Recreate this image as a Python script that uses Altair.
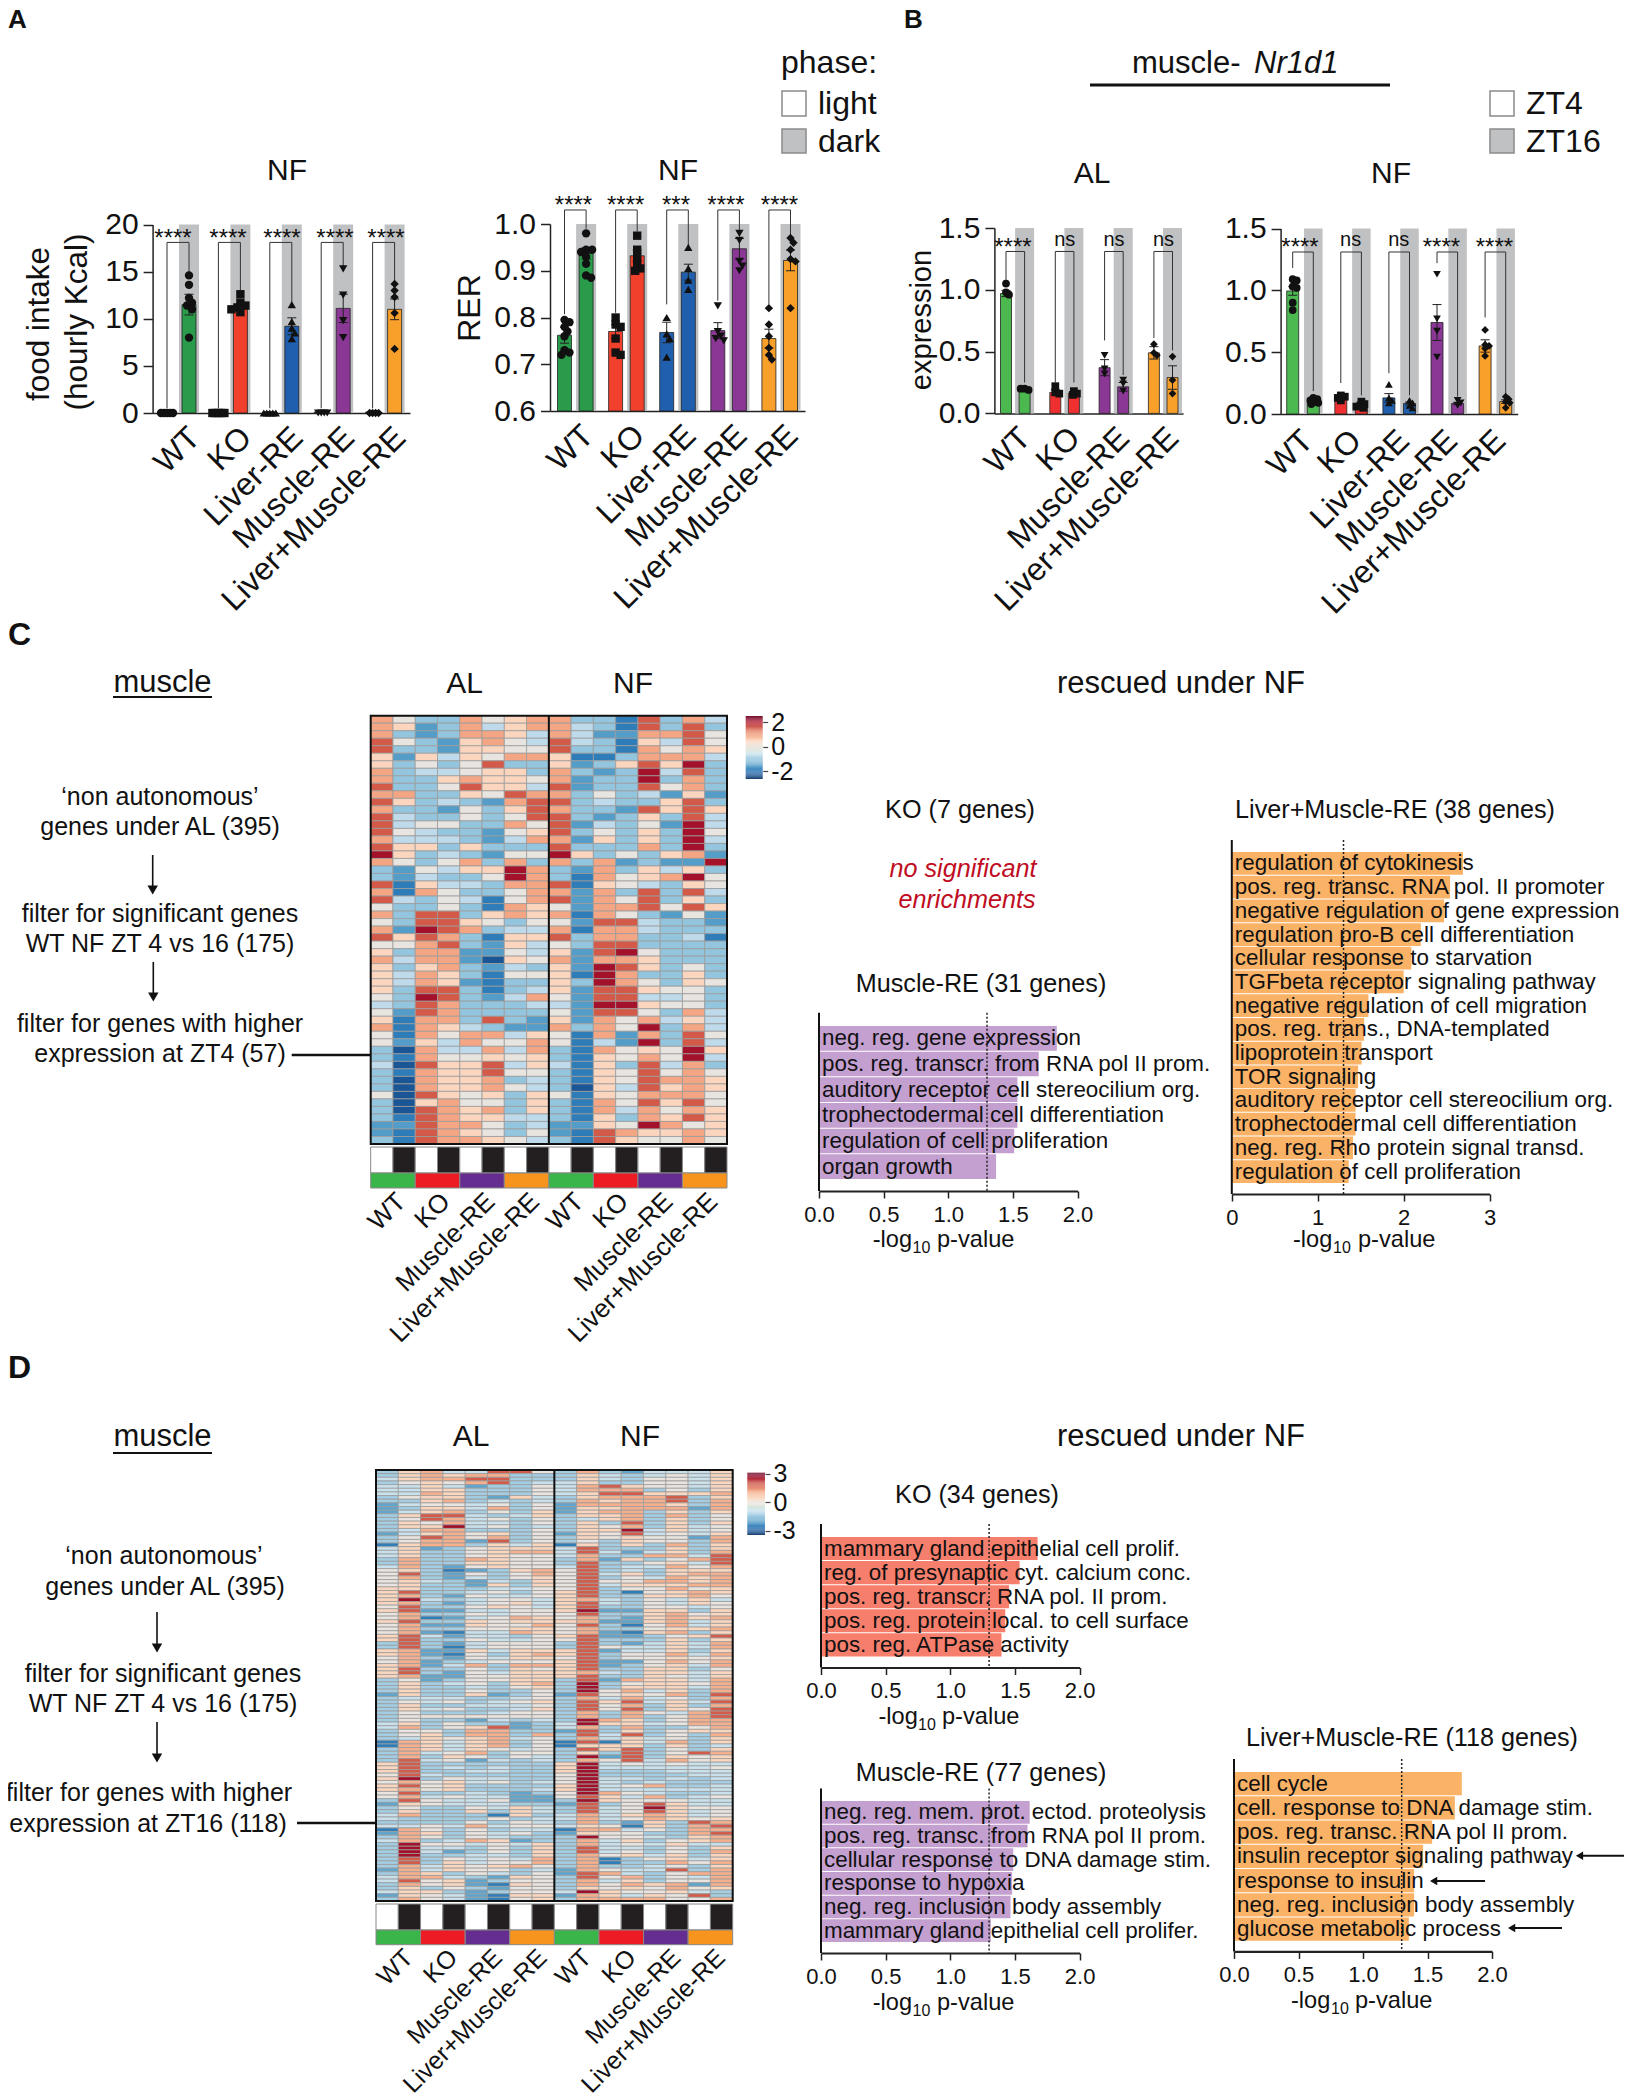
import altair as alt
import numpy as np
import pandas as pd

W, H = 1616, 2092
FONT = "Liberation Sans"

# ---------- panel data ----------
GROUPS5 = ["WT", "KO", "Liver-RE", "Muscle-RE", "Liver+Muscle-RE"]
GROUPS4 = ["WT", "KO", "Muscle-RE", "Liver+Muscle-RE"]
SHAPES = {"WT": "circle", "KO": "square", "Liver-RE": "triangle-up",
          "Muscle-RE": "triangle-down", "Liver+Muscle-RE": "diamond"}
COL_A = {"WT": "#2A9B4A", "KO": "#F1412D", "Liver-RE": "#1F5FAE",
         "Muscle-RE": "#8A3795", "Liver+Muscle-RE": "#F9A02B"}
COL_B = {"WT": "#4CB850", "KO": "#F03030", "Liver-RE": "#2060AE",
         "Muscle-RE": "#8A3795", "Liver+Muscle-RE": "#F9A02B"}

FOOD_L = [[0.0] * 5, [0.0] * 5, [0.0] * 5, [0.0] * 4, [0.0] * 4]
FOOD_D = [[14.6, 13.6, 12.2, 11.7, 11.4, 11.0, 8.0],
          [12.6, 11.7, 11.4, 11.2, 11.0, 10.7],
          [11.5, 9.7, 9.0, 8.5, 7.9],
          [15.3, 12.5, 9.8, 8.0],
          [13.7, 13.0, 12.3, 10.6, 6.8]]
FOOD_M_L = [0.1, 0.1, 0.1, 0.1, 0.1]
FOOD_M_D = [11.5, 11.3, 9.2, 11.1, 11.0]
FOOD_E_L = [0, 0, 0, 0, 0]
FOOD_E_D = [1.1, 0.3, 0.9, 1.5, 1.1]
FOOD_BR = [18.1, [0.5] * 5, [14.9, 13.0, 11.7, 15.6, 14.0]]
FOOD_SIG = ["****", "****", "****", "****", "****"]

RER_L = [[.795, .79, .78, .77, .76, .73, .725, .72],
         [.80, .785, .78, .755, .725, .72],
         [.80, .765, .755, .715],
         [.825, .77, .76, .755, .75],
         [.82, .785, .76, .735, .72, .71]]
RER_D = [[.98, .945, .945, .94, .93, .915, .89, .885],
         [.975, .945, .93, .915, .905, .90],
         [.95, .905, .88, .86],
         [.98, .965, .92, .91, .90],
         [.97, .96, .945, .925, .92, .82]]
RER_M_L = [.762, .77, .768, .772, .755]
RER_M_D = [.937, .932, .897, .947, .922]
RER_E_L = [.017, .015, .022, .017, .02]
RER_E_D = [.012, .012, .017, .022, .022]
RER_BR = [1.03, [.807, .81, .828, .836, .828], [.99, .984, .946, .986, .975]]
RER_SIG = ["****", "****", "***", "****", "****"]

AL_L = [[1.05, .98, .96], [.22, .17, .16], [.47, .36, .32], [.56, .49, .47]]
AL_D = [[.2, .19, .2], [.18, .16, .15], [.27, .24, .18], [.46, .27, .16]]
AL_M_L = [.97, .17, .37, .49]
AL_M_D = [.19, .165, .215, .29]
AL_E_L = [.025, .02, .065, .05]
AL_E_D = [.008, .012, .035, .095]
AL_BR = [1.31, [1.07, .25, .59, .61], [.25, .25, .31, .51]]
AL_SIG = ["****", "ns", "ns", "ns"]

NF_L = [[1.09, 1.08, 1.03, 1.02, .9, .84], [.15, .14, .13, .11],
        [.24, .13, .11, .09], [1.13, .77, .67, .46], [.68, .56, .55, .53, .47]]
NF_D = [[.13, .12, .11, .1, .09, .08], [.1, .08, .07, .06, .05],
        [.11, .09, .07, .05], [.11, .09, .07], [.14, .12, .10, .09, .05]]
NF_M_L = [.995, .12, .13, .74, .55]
NF_M_D = [.10, .07, .085, .085, .10]
NF_E_L = [.035, .01, .035, .145, .05]
NF_E_D = [.008, .008, .012, .01, .015]
NF_BR = [1.31, [1.18, .25, .33, 1.22, .78], [.185, .15, .15, .14, .14]]
NF_SIG = ["****", "ns", "ns", "****", "****"]

# heat map shade levels, one string per gene, 8 columns AL + 8 columns NF
HEAT_C = """
75337567 73318374
76237467 74318383
73237764 74227785
85326754 84316485
83326655 83317576
62646577 61137774
63535833 62368693
73445663 73239483
73367665 72339373
83358664 82338573
77336587 73534262
86343278 83433683
73325368 73328686
84335358 83236384
84553375 82435294
85433256 83536395
74443247 72636394
86636333 83337393
96343255 96353672
75357373 73723229
32546697 32736463
32433597 31756795
81644377 81654365
71753357 72738384
84354157 82758363
53353176 52778586
73883676 71753252
53886535 52884332
72987344 71774333
86873166 83773341
55783264 53883333
63772254 62895333
74772065 72776333
63673243 62986353
64763155 61973363
64762133 63975365
63883134 62886553
53983247 52884453
43873334 42996553
52873333 52885374
61773832 62757464
71764322 73759374
51757746 51727385
52647557 51429384
30744747 31756596
31755656 31657594
40866846 41638473
31766855 31658575
30766734 31658776
30766754 30648676
50865636 51657775
30675536 31758685
30876736 31747576
31876644 31637686
22877534 22659756
21876535 21876676
31877654 31865575
"""
HEAT_D = """
36744885 37324446
36767733 36434546
46778833 36435546
35657834 46335546
44642335 47865546
44663335 47773536
44763335 46886667
35663264 36777836
33673434 37677837
24554535 27777637
23664735 26677727
24673536 26773636
36884346 36673735
35874535 34673635
36574435 36383636
36694534 36573645
34773335 36694645
24675635 26584546
35875735 36565527
35772835 35365537
16773646 16363736
46235666 48333636
46335677 48424637
46335655 47337748
37337655 37263578
37336655 38335648
47325655 48344757
56312367 58343666
58325357 58463677
57324356 58354767
56432436 58557767
56332636 58466677
66333445 58355756
68334535 68315676
67325445 68336675
69434554 67435464
67324564 68435465
58335654 68335545
68224455 69226636
57335455 58336756
57124576 57326767
68336566 67226746
57226557 58315746
57335566 57335667
57214476 57216736
68424435 68223568
68335445 58333636
38324555 38324647
38314555 38544647
67226466 68244636
67215367 68355747
57325466 58355656
57234555 68225757
67247377 68235647
68335365 68336635
68325466 67436646
67225566 68336546
35235566 38276647
36345367 39356657
36334356 39366647
36335335 39574637
26336235 28565738
34443345 37474537
35453456 38684648
36334445 38573637
36453346 38583658
35333455 37375478
35555555 37373578
35332434 39763577
46353323 49664577
47356823 47373357
35537733 28363566
35637737 38483537
34656745 37464536
17646735 18164736
17646735 16663634
37646545 38683536
37457355 36383587
37365354 39283656
38452434 37584756
68333333 69454544
68343433 69444445
68334433 69333444
58433333 59333344
69354433 59443434
57564534 59434333
68563333 69457334
67563334 69444444
58334323 59754334
57454422 58647345
38544522 39655544
26544433 28358644
35335464 38459655
36336364 38458645
47333163 47467645
43333534 47457656
33335354 37326387
44547455 46516378
17535344 17745377
27635453 26553378
37535433 39554367
47347623 37463567
39554546 37454644
39443536 38443536
39423536 38453537
39334436 37564636
38354547 37135646
38364557 37133757
37465675 37334536
27465534 27544837
37635435 28743577
47743265 38573547
48562355 37463557
37562165 37576727
36353255 36565756
46632355 49655643
26542166 27646583
37542156 37777557
"""

# enrichment bars
C_MUSCLE_T = ["neg. reg. gene expression", "pos. reg. transcr. from RNA pol II prom.",
              "auditory receptor cell stereocilium org.", "trophectodermal cell differentiation",
              "regulation of cell proliferation", "organ growth"]
C_MUSCLE_V = [1.84, 1.70, 1.535, 1.535, 1.51, 1.37]
C_LM_T = ["regulation of cytokinesis", "pos. reg. transc. RNA pol. II promoter",
          "negative regulation of gene expression", "regulation pro-B cell differentiation",
          "cellular response to starvation", "TGFbeta receptor signaling pathway",
          "negative regulation of cell migration", "pos. reg. trans., DNA-templated",
          "lipoprotein transport", "TOR signaling", "auditory receptor cell stereocilium org.",
          "trophectodermal cell differentiation", "neg. reg. Rho protein signal transd.",
          "regulation of cell proliferation"]
C_LM_V = [2.69, 2.54, 2.47, 2.20, 2.09, 2.0, 1.59, 1.54, 1.51, 1.47, 1.44, 1.44, 1.41, 1.36]
D_KO_T = ["mammary gland epithelial cell prolif.", "reg. of presynaptic cyt. calcium conc.",
          "pos. reg. transcr. RNA pol. II prom.", "pos. reg. protein local. to cell surface",
          "pos. reg. ATPase activity"]
D_KO_V = [1.675, 1.536, 1.454, 1.425, 1.396]
D_MUSCLE_T = ["neg. reg. mem. prot. ectod. proteolysis", "pos. reg. transc. from RNA pol II prom.",
              "cellular response to DNA damage stim.", "response to hypoxia",
              "neg. reg. inclusion body assembly", "mammary gland epithelial cell prolifer."]
D_MUSCLE_V = [1.614, 1.597, 1.487, 1.478, 1.466, 1.314]
D_LM_T = ["cell cycle", "cell. response to DNA damage stim.", "pos. reg. transc. RNA pol II prom.",
          "insulin receptor signaling pathway", "response to insulin",
          "neg. reg. inclusion body assembly", "glucose metabolic process"]
D_LM_V = [1.766, 1.712, 1.536, 1.466, 1.396, 1.396, 1.355]

RDBU = ["#053061", "#2166AC", "#4393C3", "#92C5DE", "#C9E0EE", "#E8E4E0",
        "#FBD5BE", "#F4A582", "#D6604D", "#B2182B", "#67001F"]
LEVELS_C = [-2.29, -1.88, -1.52, -1.1, -0.7, -0.08, 0.44, 0.95, 1.52, 2.09]
LEVELS_D = [-3.0, -2.45, -1.9, -1.3, -0.8, -0.15, 0.45, 1.0, 1.85, 2.6]


def px(v):
    return v - 8


DUMMY = alt.Data(values=[{"_": 0}])
layers = []


def T(text, x, y, size=25, align="left", angle=0, style=None, color="#111", weight=None):
    kw = dict(text=text, fontSize=size, align=align, baseline="alphabetic", font=FONT, color=color)
    if angle:
        kw["angle"] = angle
    if style:
        kw["fontStyle"] = style
    if weight:
        kw["fontWeight"] = weight
    layers.append(alt.Chart(DUMMY).mark_text(**kw).encode(x=alt.value(px(x)), y=alt.value(px(y))))


def LINE(x1, y1, x2, y2, w=2.0, color="#111"):
    layers.append(alt.Chart(DUMMY).mark_rule(color=color, strokeWidth=w).encode(
        x=alt.value(px(x1)), x2=alt.value(px(x2)), y=alt.value(px(y1)), y2=alt.value(px(y2))))


def HEAD(x, y, shape, size=110):
    layers.append(alt.Chart(DUMMY).mark_point(shape=shape, filled=True, color="#111", size=size, opacity=1).encode(
        x=alt.value(px(x)), y=alt.value(px(y))))


def BOX(x1, y1, x2, y2, fill, stroke="#8a8a8a"):
    layers.append(alt.Chart(DUMMY).mark_rect(fill=fill, stroke=stroke, strokeWidth=1.5).encode(
        x=alt.value(px(x1)), x2=alt.value(px(x2)), y=alt.value(px(y1)), y2=alt.value(px(y2))))


def swarm(vals, ppu, unit, gap):
    sep = 3.0 if max(vals) == min(vals) else gap
    placed, out = [], []
    for v in vals:
        y = v * ppu
        for k in range(0, 24):
            off = ((k + 1) // 2) * (1 if k % 2 else -1) * 1.0
            if all(np.hypot(off - a, y - b) >= sep for a, b in placed):
                break
        placed.append((off, y))
        out.append(off / unit)
    return out


def bar_panel(names, pal, L, D, ML, MD, EL, ED, BR, x_first, pitch, sep, bw, bandw, ax_x, x_end,
              y0, y1, dom, ticks, fmt, lab_off, lab_pad, lab_size=32, cap=4.5, msize=70, gap=5.5):
    u = lambda p: (p - x_first) / pitch
    xs = alt.Scale(domain=[u(ax_x), u(x_end)], range=[px(ax_x), px(x_end)], nice=False, zero=False)
    ys = alt.Scale(domain=dom, range=[px(y0), px(y1)], nice=False, zero=False)
    s = sep / pitch
    ppu = (y0 - y1) / (dom[1] - dom[0])
    bars, pts, errs, caps, bands, br1, br2 = [], [], [], [], [], [], []
    for g, n in enumerate(names):
        pl, pd_ = g, g + s
        bands.append(dict(a=pd_ - bandw / 2 / pitch, b=pd_ + bandw / 2 / pitch, lo=dom[0], hi=dom[1]))
        for pos, m, e, vals in ((pl, ML[g], EL[g], L[g]), (pd_, MD[g], ED[g], D[g])):
            bars.append(dict(a=pos - bw / 2 / pitch, b=pos + bw / 2 / pitch, lo=dom[0], hi=max(m, dom[0]), g=n))
            errs.append(dict(p=pos, lo=m - e, hi=m + e))
            caps.append(dict(a=pos - cap / pitch, b=pos + cap / pitch, y=m - e))
            caps.append(dict(a=pos - cap / pitch, b=pos + cap / pitch, y=m + e))
            for v, o in zip(vals, swarm(vals, ppu, pitch, gap)):
                pts.append(dict(p=pos + o, v=v, g=n))
        br1.append(dict(p=pl, lo=BR[1][g], hi=BR[0]))
        br1.append(dict(p=pd_, lo=BR[2][g], hi=BR[0]))
        br2.append(dict(a=pl, b=pd_, y=BR[0]))
    X0 = alt.X("a:Q", scale=xs, axis=None)
    Y0 = alt.Y("lo:Q", scale=ys, axis=None)
    name_list = "[" + ",".join("'%s'" % n for n in names) + "]"
    vals = [g + 0.2 for g in range(len(names))]
    xaxis = alt.Axis(orient="bottom", values=vals, labelExpr=name_list + "[floor(datum.value)]", ticks=False, grid=False,
                     domainColor="#222", domainWidth=1.5, labelFontSize=lab_size, labelFont=FONT, labelLimit=500,
                     labelColor="#111", labelAngle=315, labelAlign="right", labelBaseline="middle",
                     labelPadding=lab_pad, labelOffset=lab_off, labelOverlap=False, labelFlush=False, labelBound=False,
                     title=None, offset=-(H - px(y0)))
    yaxis = alt.Axis(orient="left", values=ticks, format=fmt, grid=False, domainColor="#222", domainWidth=1.5,
                     tickColor="#222", tickSize=9.5, tickWidth=1.5, labelFontSize=30, labelFont=FONT,
                     labelColor="#111", labelPadding=5, title=None, offset=-px(ax_x), labelFlush=False,
                     labelBound=False, labelOverlap=False)
    color = alt.Color("g:N", scale=alt.Scale(domain=names, range=[pal[n] for n in names]), legend=None)
    shape = alt.Shape("g:N", scale=alt.Scale(domain=names, range=[SHAPES[n] for n in names]), legend=None)
    layers.extend([
        alt.Chart(pd.DataFrame(bands)).mark_rect(color="#C0C1C3").encode(
            x=alt.X("a:Q", scale=xs, axis=xaxis), x2="b:Q",
            y=alt.Y("lo:Q", scale=ys, axis=yaxis), y2="hi:Q"),
        alt.Chart(pd.DataFrame(bars)).mark_rect(stroke="#222", strokeWidth=0.8).encode(
            x=X0, x2="b:Q", y=Y0, y2="hi:Q", color=color),
        alt.Chart(pd.DataFrame(br1)).mark_rule(color="#333", strokeWidth=1).encode(
            x=alt.X("p:Q", scale=xs, axis=None), y=Y0, y2="hi:Q"),
        alt.Chart(pd.DataFrame(br2)).mark_rule(color="#333", strokeWidth=1).encode(
            x=X0, x2="b:Q", y=alt.Y("y:Q", scale=ys, axis=None)),
        alt.Chart(pd.DataFrame(errs)).mark_rule(color="#222", strokeWidth=1).encode(
            x=alt.X("p:Q", scale=xs, axis=None), y=Y0, y2="hi:Q"),
        alt.Chart(pd.DataFrame(caps)).mark_rule(color="#222", strokeWidth=1).encode(
            x=X0, x2="b:Q", y=alt.Y("y:Q", scale=ys, axis=None)),
        alt.Chart(pd.DataFrame(pts)).mark_point(filled=True, color="#111", opacity=1, size=msize).encode(
            x=alt.X("p:Q", scale=xs, axis=None), y=alt.Y("v:Q", scale=ys, axis=None), shape=shape),
    ])


def heat_panel(rows_txt, levels, left, right, top, bottom, dom_lo, dom_hi, s1, s2, s3, lab_y, lab_size, lab_shift,
               bar_x0, bar_x1, bar_y0, bar_y1, bar_ticks):
    rows = [r.replace(" ", "") for r in rows_txt.strip().splitlines()]
    n = len(rows)
    recs = [dict(c=c, c2=c + 1, r=i, r2=i + 1, v=levels[int(ch)])
            for i, r in enumerate(rows) for c, ch in enumerate(r)]
    xs = alt.Scale(domain=[0, 16], range=[px(left), px(right)], nice=False, zero=False)
    ys = alt.Scale(domain=[0, n], range=[px(top), px(bottom)], nice=False, zero=False)
    cs = alt.Scale(domain=list(np.linspace(dom_lo, dom_hi, 11)), range=RDBU)
    names = GROUPS4 + GROUPS4
    name_list = "[" + ",".join("'%s'" % k for k in names) + "]"
    xaxis = alt.Axis(orient="bottom", values=[2 * g + lab_shift for g in range(8)], labelExpr=name_list + "[floor(datum.value/2)]",
                     ticks=False, domain=False, grid=False, labelFontSize=lab_size, labelFont=FONT, labelLimit=500,
                     labelColor="#111", labelAngle=315, labelAlign="right", labelBaseline="middle",
                     labelPadding=7, labelOverlap=False, labelFlush=False, labelBound=False, title=None,
                     offset=-(H - px(lab_y)))
    strip1 = [dict(c=c, c2=c + 1, k="w" if c % 2 == 0 else "b") for c in range(16)]
    strip2 = [dict(c=2 * g, c2=2 * g + 2, k=names[g]) for g in range(8)]
    layers.extend([
        alt.Chart(pd.DataFrame(recs)).mark_rect(stroke="#9c9c9c", strokeWidth=0.8).encode(
            x=alt.X("c:Q", scale=xs, axis=xaxis), x2="c2:Q",
            y=alt.Y("r:Q", scale=ys, axis=None), y2="r2:Q",
            color=alt.Color("v:Q", scale=cs, legend=None)),
        alt.Chart(DUMMY).mark_rect(filled=False, stroke="#111", strokeWidth=2).encode(
            x=alt.X(datum=0, scale=xs, axis=None), x2=alt.X2(datum=16),
            y=alt.Y(datum=0, scale=ys, axis=None), y2=alt.Y2(datum=n)),
        alt.Chart(DUMMY).mark_rule(color="#111", strokeWidth=2).encode(
            x=alt.X(datum=8, scale=xs, axis=None),
            y=alt.Y(datum=0, scale=ys, axis=None), y2=alt.Y2(datum=n)),
        alt.Chart(pd.DataFrame(strip1)).mark_rect(stroke="#888", strokeWidth=1).encode(
            x=alt.X("c:Q", scale=xs, axis=None), x2="c2:Q", y=alt.value(px(s1)), y2=alt.value(px(s2)),
            fill=alt.Fill("k:N", scale=alt.Scale(domain=["w", "b"], range=["#FFFFFF", "#231F20"]), legend=None)),
        alt.Chart(pd.DataFrame(strip2)).mark_rect(stroke="#888", strokeWidth=1).encode(
            x=alt.X("c:Q", scale=xs, axis=None), x2="c2:Q", y=alt.value(px(s2)), y2=alt.value(px(s3)),
            fill=alt.Fill("k:N", scale=alt.Scale(domain=["WT", "KO", "Muscle-RE", "Liver+Muscle-RE"],
                                                 range=["#39B54A", "#ED1C24", "#662D91", "#F7941D"]), legend=None)),
    ])
    # colour bar
    lv = np.linspace(dom_lo, dom_hi, 70)
    bar = pd.DataFrame({"a": lv[:-1], "b": lv[1:], "v": (lv[:-1] + lv[1:]) / 2})
    ybar = alt.Scale(domain=[dom_lo, dom_hi], range=[px(bar_y1), px(bar_y0)], nice=False, zero=False)
    baxis = alt.Axis(orient="right", values=bar_ticks, domain=False, grid=False, tickSize=5, tickColor="#444",
                     tickWidth=1.2, labelFontSize=25, labelFont=FONT, labelColor="#111", labelPadding=3,
                     title=None, offset=-(W - px(bar_x1)), labelOverlap=False, labelFlush=False, labelBound=False,
                     labelExpr="replace(format(datum.value,'d'),'\u2212','-')")
    layers.append(alt.Chart(bar).mark_rect().encode(
        x=alt.value(px(bar_x0)), x2=alt.value(px(bar_x1)),
        y=alt.Y("a:Q", scale=ybar, axis=baxis), y2="b:Q",
        color=alt.Color("v:Q", scale=cs, legend=None)))


def go_panel(rows, vals, color, x0, x1, dmax, ticks, fmt, top, axy, b0, b1, size=22.4):
    xs = alt.Scale(domain=[0, dmax], range=[px(x0), px(x1)], nice=False, zero=False)
    ys = alt.Scale(type="band", domain=rows, range=[px(b0), px(b1)], paddingInner=0.04, paddingOuter=0)
    df = pd.DataFrame({"row": rows, "v": vals})
    xaxis = alt.Axis(orient="bottom", values=ticks, format=fmt, grid=False, domainColor="#222", domainWidth=2.2, tickColor="#222",
                     tickSize=7, tickWidth=1.5, labelFontSize=22, labelFont=FONT, labelColor="#111",
                     labelPadding=6, title=None, offset=-(H - px(axy)), labelFlush=False, labelBound=False,
                     labelOverlap=False)
    Yb = alt.Y("row:N", scale=ys, axis=None, sort=None)
    layers.extend([
        alt.Chart(df).mark_bar(color=color).encode(x=alt.X("v:Q", scale=xs, axis=xaxis), y=Yb),
        alt.Chart(DUMMY).mark_rule(color="#111", strokeWidth=2).encode(
            x=alt.X(datum=0, scale=xs, axis=None), y=alt.value(px(top)), y2=alt.value(px(axy))),
        alt.Chart(DUMMY).mark_rule(color="#222", strokeWidth=1.5, strokeDash=[2, 2]).encode(
            x=alt.X(datum=1.3, scale=xs, axis=None), y=alt.value(px(top)), y2=alt.value(px(axy))),
        alt.Chart(df).mark_text(align="left", fontSize=size, font=FONT, color="#111", dx=3).encode(
            x=alt.X(datum=0, scale=xs, axis=None), y=Yb, text="row:N"),
    ])


def logp(x, x10, xp, y):
    T("-log", x, y, 23.6)
    T("10", x10, y + 6, 16)
    T("p-value", xp, y, 23.6)


# ---------- panel letters ----------
T("A", 8, 28, 26, weight="bold")
T("B", 904, 28, 26, weight="bold")
T("C", 8, 645, 32, weight="bold")
T("D", 8, 1378, 32, weight="bold")

# ---------- panel A ----------
bar_panel(GROUPS5, COL_A, FOOD_L, FOOD_D, FOOD_M_L, FOOD_M_D, FOOD_E_L, FOOD_E_D, FOOD_BR,
          167, 51.4, 22, 14, 20, 152.6, 410, 413, 224.5, [0, 20], [0, 5, 10, 15, 20], "d", 17, 19)
bar_panel(GROUPS5, COL_A, RER_L, RER_D, RER_M_L, RER_M_D, RER_E_L, RER_E_D, RER_BR,
          564.5, 51.1, 21.6, 14, 20, 550, 805, 411, 224, [0.6, 1.0], [.6, .7, .8, .9, 1.0], ".1f", 13, 19)
T("NF", 287, 180, 30, "center")
T("NF", 678, 180, 30, "center")
T("food intake", 49, 324, 31.5, "center", 270)
T("(hourly Kcal)", 87, 322, 31.5, "center", 270)
T("RER", 480, 308, 32, "center", 270)
for txt, x in zip(FOOD_SIG, [173, 228, 282, 335, 386]):
    T(txt, x, 246, 24, "center")
for txt, x in zip(RER_SIG, [573.5, 625.7, 676, 726, 779.5]):
    T(txt, x, 213, 24, "center")
T("phase:", 781, 73, 32)
BOX(782, 91, 806, 116, "#FFFFFF")
T("light", 818, 114, 32)
BOX(782, 129, 806, 153, "#C0C1C3")
T("dark", 818, 152, 32)

# ---------- panel B ----------
T("muscle-", 1132, 73, 31)
T("Nr1d1", 1254, 73, 31, style="italic")
LINE(1090, 85, 1390, 85, 3)
BOX(1490, 91, 1514, 116, "#FFFFFF")
T("ZT4", 1526, 114, 32)
BOX(1490, 129, 1514, 153, "#C0C1C3")
T("ZT16", 1526, 152, 32)
T("AL", 1092, 183, 30, "center")
T("NF", 1391, 183, 30, "center")
T("expression", 931, 320, 29, "center", 270)
bar_panel(GROUPS4, COL_B, AL_L, AL_D, AL_M_L, AL_M_D, AL_E_L, AL_E_D, AL_BR,
          1006, 49.3, 18.6, 11, 19, 994.4, 1183, 413.4, 228, [0, 1.5], [0, .5, 1.0, 1.5], ".1f", 9, 19, msize=60, gap=3.5)
bar_panel(GROUPS5, COL_B, NF_L, NF_D, NF_M_L, NF_M_D, NF_E_L, NF_E_D, NF_BR,
          1292.7, 48.1, 20.6, 12, 18.5, 1280.6, 1517.7, 414, 228.5, [0, 1.5], [0, .5, 1.0, 1.5], ".1f", 5, 21, msize=60, gap=3.5)
for txt, x in zip(AL_SIG, [1012.9, 1064.8, 1114, 1163.5]):
    T(txt, x, 255 if txt != "ns" else 246, 24 if txt != "ns" else 20, "center")
for txt, x in zip(NF_SIG, [1300, 1350.6, 1398.7, 1441.4, 1494.4]):
    T(txt, x, 255 if txt != "ns" else 246, 24 if txt != "ns" else 20, "center")

# ---------- panel C ----------
heat_panel(HEAT_C, LEVELS_C, 370.7, 727, 715.7, 1144, -2.65, 2.5, 1147, 1173, 1188, 1190, 26, 1.36,
           745.7, 762.7, 716, 779, [-2, 0, 2])
T("muscle", 162.5, 691.5, 31, "center")
LINE(113, 697, 212, 697, 2)
T("AL", 464.6, 693, 30, "center")
T("NF", 633, 693, 30, "center")
T("rescued under NF", 1181, 693, 31, "center")
C_FLOW = [("\u2018non autonomous\u2019", 805), ("genes under AL (395)", 835), ("filter for significant genes", 922),
          ("WT NF ZT 4 vs 16 (175)", 952), ("filter for genes with higher", 1032), ("expression at ZT4 (57)", 1062)]
for txt, y in C_FLOW:
    T(txt, 160, y, 25, "center")
LINE(152.7, 855, 152.7, 890, 1.6)
HEAD(152.7, 890, "triangle-down")
LINE(153.3, 962, 153.3, 997, 1.6)
HEAD(153.3, 997, "triangle-down")
LINE(291.7, 1055, 370.7, 1055, 2.5)
T("KO (7 genes)", 960, 818, 25.2, "center")
T("Liver+Muscle-RE (38 genes)", 1395, 818, 25.2, "center")
T("Muscle-RE (31 genes)", 981, 992, 25.2, "center")
T("no significant", 963, 877, 25.2, "center", style="italic", color="#C00D22")
T("enrichments", 967, 908, 25.2, "center", style="italic", color="#C00D22")
go_panel(C_MUSCLE_T, C_MUSCLE_V, "#C4A0D0", 819, 1077.5, 2, [0, .5, 1, 1.5, 2], ".1f", 1012.7, 1191, 1026, 1179)
go_panel(C_LM_T, C_LM_V, "#FAB266", 1231.8, 1489.6, 3, [0, 1, 2, 3], "d", 840, 1194, 852, 1183)
logp(872.7, 912.5, 937, 1247)
logp(1293, 1333, 1358, 1247)

# ---------- panel D ----------
heat_panel(HEAT_D, LEVELS_D, 376, 732.7, 1470, 1901, -3.45, 3.1, 1904, 1930, 1944.7, 1946, 25, 1.45,
           747.3, 765, 1472.7, 1535, [-3, 0, 3])
T("muscle", 162.5, 1446, 31, "center")
LINE(113, 1453, 212, 1453, 2)
T("AL", 471, 1446, 30, "center")
T("NF", 640, 1446, 30, "center")
T("rescued under NF", 1181, 1446, 31, "center")
D_FLOW = [("\u2018non autonomous\u2019", 164, 1564), ("genes under AL (395)", 165, 1595),
          ("filter for significant genes", 163, 1682), ("WT NF ZT 4 vs 16 (175)", 163, 1712),
          ("filter for genes with higher", 149, 1801), ("expression at ZT16 (118)", 148, 1832)]
for txt, x, y in D_FLOW:
    T(txt, x, y, 25, "center")
LINE(157, 1612, 157, 1648, 1.6)
HEAD(157, 1648, "triangle-down")
LINE(157, 1722, 157, 1758, 1.6)
HEAD(157, 1758, "triangle-down")
LINE(297, 1823, 376, 1823, 2.5)
T("KO (34 genes)", 977, 1503, 25.2, "center")
T("Muscle-RE (77 genes)", 981, 1781, 25.2, "center")
T("Liver+Muscle-RE (118 genes)", 1412, 1746, 25.2, "center")
go_panel(D_KO_T, D_KO_V, "#F67E6C", 821, 1079.6, 2, [0, .5, 1, 1.5, 2], ".1f", 1524, 1667.5, 1537, 1656.4)
go_panel(D_MUSCLE_T, D_MUSCLE_V, "#C4A0D0", 821, 1079.6, 2, [0, .5, 1, 1.5, 2], ".1f", 1788.6, 1953, 1801, 1942)
go_panel(D_LM_T, D_LM_V, "#FAB266", 1234, 1492, 2, [0, .5, 1, 1.5, 2], ".1f", 1759, 1951.4, 1772, 1940.7)
logp(878.5, 918, 942, 1724)
logp(872.7, 912.5, 937, 2010)
logp(1291, 1331, 1355, 2008)
for y, head, tail in [(1855.7, 1574.5, 1632), (1881, 1428.6, 1485), (1928, 1506.6, 1562)]:
    LINE(head + 6, y, tail, y, 2)
    HEAD(head + 5, y, "triangle-left", 70)

chart = (
    alt.layer(*layers)
    .resolve_scale(x="independent", y="independent", color="independent", shape="independent", fill="independent")
    .properties(width=W, height=H, padding=0, autosize=alt.AutoSizeParams(type="none"))
    .configure(font=FONT)
    .configure_view(stroke=None)
)
chart.save("out.html", embed_options={"renderer": "svg", "actions": False})
